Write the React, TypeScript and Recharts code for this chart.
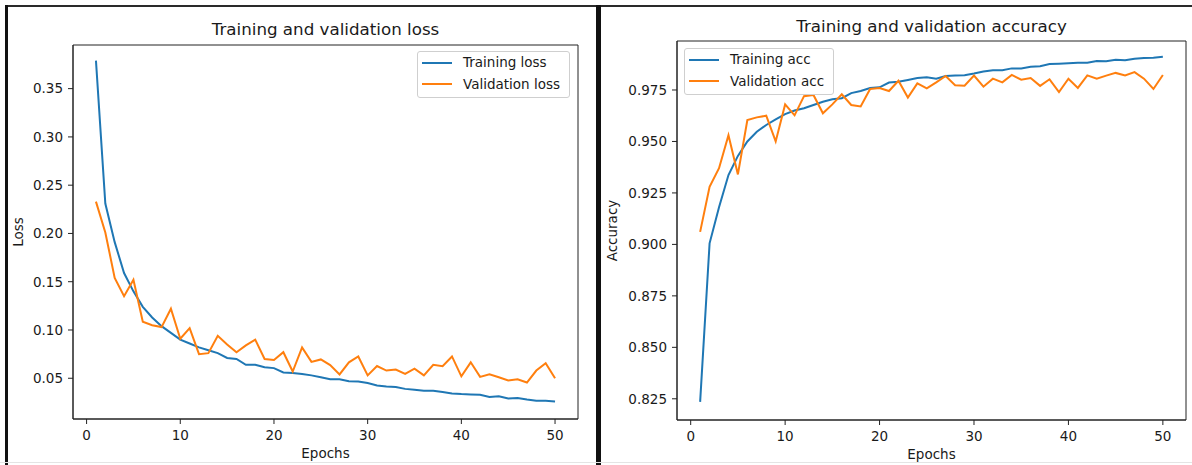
import React from 'react';
import { LineChart, Line, XAxis, YAxis, Legend, ReferenceArea } from 'recharts';

// Epoch index for both panels
const epochs = [
  1, 2, 3, 4, 5, 6, 7, 8, 9, 10, 11, 12, 13, 14, 15, 16, 17, 18, 19, 20, 21, 22, 23, 24, 25,
  26, 27, 28, 29, 30, 31, 32, 33, 34, 35, 36, 37, 38, 39, 40, 41, 42, 43, 44, 45, 46, 47, 48, 49, 50,
];

const trainLoss = [
  0.379, 0.231, 0.191, 0.159, 0.14, 0.124, 0.113, 0.104, 0.097, 0.09,
  0.086, 0.082, 0.079, 0.076, 0.071, 0.07, 0.064, 0.064, 0.0615, 0.0605,
  0.056, 0.0555, 0.0545, 0.053, 0.051, 0.049, 0.049, 0.047, 0.0466, 0.045,
  0.0425, 0.0415, 0.041, 0.039, 0.038, 0.037, 0.037, 0.0357, 0.0343, 0.0336,
  0.0333, 0.033, 0.0306, 0.0313, 0.029, 0.0296, 0.028, 0.0268, 0.0268, 0.026,
];

const valLoss = [
  0.233, 0.201, 0.154, 0.135, 0.152, 0.1085, 0.105, 0.103, 0.122, 0.091,
  0.102, 0.075, 0.076, 0.094, 0.085, 0.077, 0.084, 0.09, 0.07, 0.069,
  0.077, 0.057, 0.082, 0.067, 0.0695, 0.0637, 0.054, 0.0665, 0.0726, 0.053,
  0.0627, 0.058, 0.059, 0.0545, 0.06, 0.053, 0.064, 0.0624, 0.0726, 0.052,
  0.0665, 0.0514, 0.054, 0.051, 0.0477, 0.049, 0.0456, 0.058, 0.0655, 0.05,
];

const trainAcc = [
  0.8235, 0.9005, 0.918, 0.9337, 0.943, 0.95, 0.9547, 0.958, 0.9607, 0.9633,
  0.965, 0.9661, 0.9677, 0.9693, 0.9705, 0.971, 0.9735, 0.9745, 0.976, 0.9763,
  0.9786, 0.979, 0.9799, 0.9808, 0.9812, 0.9805, 0.9818, 0.982, 0.9822, 0.983,
  0.984, 0.9846, 0.9846, 0.9855, 0.9855, 0.9863, 0.9865, 0.9876, 0.9878, 0.988,
  0.9882, 0.9882, 0.9891, 0.989, 0.9897, 0.9894, 0.9902, 0.9906, 0.9907, 0.9912,
];

const valAcc = [
  0.9061, 0.928, 0.937, 0.953, 0.934, 0.9604, 0.9617, 0.9625, 0.95, 0.968,
  0.9627, 0.972, 0.9726, 0.9637, 0.968, 0.9729, 0.9677, 0.967, 0.9755, 0.976,
  0.9745, 0.9795, 0.9713, 0.9782, 0.9758, 0.9787, 0.9818, 0.9773, 0.9771, 0.982,
  0.9766, 0.9805, 0.9787, 0.9823, 0.98, 0.9808, 0.977, 0.9802, 0.974, 0.9805,
  0.976, 0.9821, 0.9805, 0.982, 0.9833, 0.9821, 0.9837, 0.9805, 0.9755, 0.9823,
];

const epochTicks = [0, 10, 20, 30, 40, 50];
const lossTicks = [0.05, 0.1, 0.15, 0.2, 0.25, 0.3, 0.35];
const accTicks = [0.825, 0.85, 0.875, 0.9, 0.925, 0.95, 0.975];

const lossData = epochs.map((epoch, i) => ({ epoch, train: trainLoss[i], val: valLoss[i] }));
const accData = epochs.map((epoch, i) => ({ epoch, train: trainAcc[i], val: valAcc[i] }));

const FONT = '"DejaVu Sans", sans-serif';
const BLUE = '#1f77b4';
const ORANGE = '#ff7f0e';
const INK = '#1a1a1a';
const X_DOMAIN: [number, number] = [-1.45, 52.45];
const LOSS_DOMAIN: [number, number] = [0.0078, 0.3952];
const ACC_DOMAIN: [number, number] = [0.8147, 0.9988];

const tickStyle = { fontSize: 13.5, fill: INK, fontFamily: FONT };

const LegendBox = (props: any) => {
  const items = props.payload || [];
  return (
    <div
      style={{
        display: 'inline-block',
        border: '1px solid #cfcfcf',
        borderRadius: 3,
        background: 'rgba(255,255,255,0.85)',
        padding: '0 9px 2px 4px',
        fontFamily: FONT,
        fontSize: 13.5,
        color: INK,
        whiteSpace: 'nowrap',
      }}
    >
      {items.map((it: any) => (
        <div key={it.value} style={{ display: 'flex', alignItems: 'center', height: 21.5 }}>
          <svg width={30} height={4} style={{ display: 'block' }}>
            <line x1={0} y1={2} x2={30} y2={2} stroke={it.color} strokeWidth={2} />
          </svg>
          <span style={{ marginLeft: 11, lineHeight: '21.5px' }}>{it.value}</span>
        </div>
      ))}
    </div>
  );
};

export default function App() {
  return (
    <div style={{ position: 'absolute', left: 0, top: 0, width: 1192, height: 465, background: '#fff' }}>
      {/* loss panel */}
      <div style={{ position: 'absolute', left: 0, top: 0 }}>
        <LineChart width={596} height={465} data={lossData} margin={{ top: 45, right: 18, bottom: 0, left: 0 }}>
          <XAxis
            dataKey="epoch"
            type="number"
            domain={X_DOMAIN}
            ticks={epochTicks}
            allowDataOverflow
            height={46}
            tick={tickStyle}
            tickSize={5}
            tickMargin={6}
            stroke="#222"
          />
          <YAxis
            type="number"
            domain={LOSS_DOMAIN}
            ticks={lossTicks}
            allowDataOverflow
            width={73}
            tick={tickStyle}
            tickSize={5}
            tickMargin={5}
            tickFormatter={(v: number) => v.toFixed(2)}
            stroke="#222"
          />
          <ReferenceArea
            x1={X_DOMAIN[0]}
            x2={X_DOMAIN[1]}
            y1={LOSS_DOMAIN[0]}
            y2={LOSS_DOMAIN[1]}
            fill="none"
            stroke="#222"
            strokeWidth={1}
          />
          <Line type="linear" dataKey="train" name="Training loss" stroke={BLUE} strokeWidth={2} dot={false} isAnimationActive={false} />
          <Line type="linear" dataKey="val" name="Validation loss" stroke={ORANGE} strokeWidth={2} dot={false} isAnimationActive={false} />
          <Legend
            layout="vertical"
            align="center"
            verticalAlign="middle"
            content={<LegendBox />}
            wrapperStyle={{ left: 417, top: 51, right: 'auto', bottom: 'auto', width: 'auto' }}
          />
        </LineChart>
      </div>

      {/* accuracy panel */}
      <div style={{ position: 'absolute', left: 600, top: 0 }}>
        <LineChart width={592} height={465} data={accData} margin={{ top: 41, right: 6, bottom: 0, left: 0 }}>
          <XAxis
            dataKey="epoch"
            type="number"
            domain={X_DOMAIN}
            ticks={epochTicks}
            allowDataOverflow
            height={45}
            tick={tickStyle}
            tickSize={5}
            tickMargin={6}
            stroke="#222"
          />
          <YAxis
            type="number"
            domain={ACC_DOMAIN}
            ticks={accTicks}
            allowDataOverflow
            width={77}
            tick={tickStyle}
            tickSize={5}
            tickMargin={5}
            tickFormatter={(v: number) => v.toFixed(3)}
            stroke="#222"
          />
          <ReferenceArea
            x1={X_DOMAIN[0]}
            x2={X_DOMAIN[1]}
            y1={ACC_DOMAIN[0]}
            y2={ACC_DOMAIN[1]}
            fill="none"
            stroke="#222"
            strokeWidth={1}
          />
          <Line type="linear" dataKey="train" name="Training acc" stroke={BLUE} strokeWidth={2} dot={false} isAnimationActive={false} />
          <Line type="linear" dataKey="val" name="Validation acc" stroke={ORANGE} strokeWidth={2} dot={false} isAnimationActive={false} />
          <Legend
            layout="vertical"
            align="center"
            verticalAlign="middle"
            content={<LegendBox />}
            wrapperStyle={{ left: 84, top: 48, right: 'auto', bottom: 'auto', width: 'auto' }}
          />
        </LineChart>
      </div>

      {/* panel frames, titles and axis labels */}
      <svg
        width={1192}
        height={465}
        style={{ position: 'absolute', left: 0, top: 0, pointerEvents: 'none' }}
        fontFamily={FONT}
      >
        <rect x={5} y={5} width={1187} height={2} fill="#2a2a2a" />
        <rect x={5} y={5} width={3} height={460} fill="#111" />
        <rect x={596} y={5} width={5} height={460} fill="#111" />
        <rect x={0} y={462} width={1192} height={1} fill="#e4e4e4" />

        <text x={325.5} y={35} textAnchor="middle" fontSize={16.7} fill={INK}>
          Training and validation loss
        </text>
        <text x={931.5} y={32} textAnchor="middle" fontSize={16.7} fill={INK}>
          Training and validation accuracy
        </text>

        <text x={325.5} y={458} textAnchor="middle" fontSize={13.5} fill={INK}>
          Epochs
        </text>
        <text x={931.5} y={459} textAnchor="middle" fontSize={13.5} fill={INK}>
          Epochs
        </text>

        <text x={23} y={232} textAnchor="middle" fontSize={13.5} fill={INK} transform="rotate(-90 23 232)">
          Loss
        </text>
        <text x={617} y={230.5} textAnchor="middle" fontSize={13.5} fill={INK} transform="rotate(-90 617 230.5)">
          Accuracy
        </text>
      </svg>
    </div>
  );
}
